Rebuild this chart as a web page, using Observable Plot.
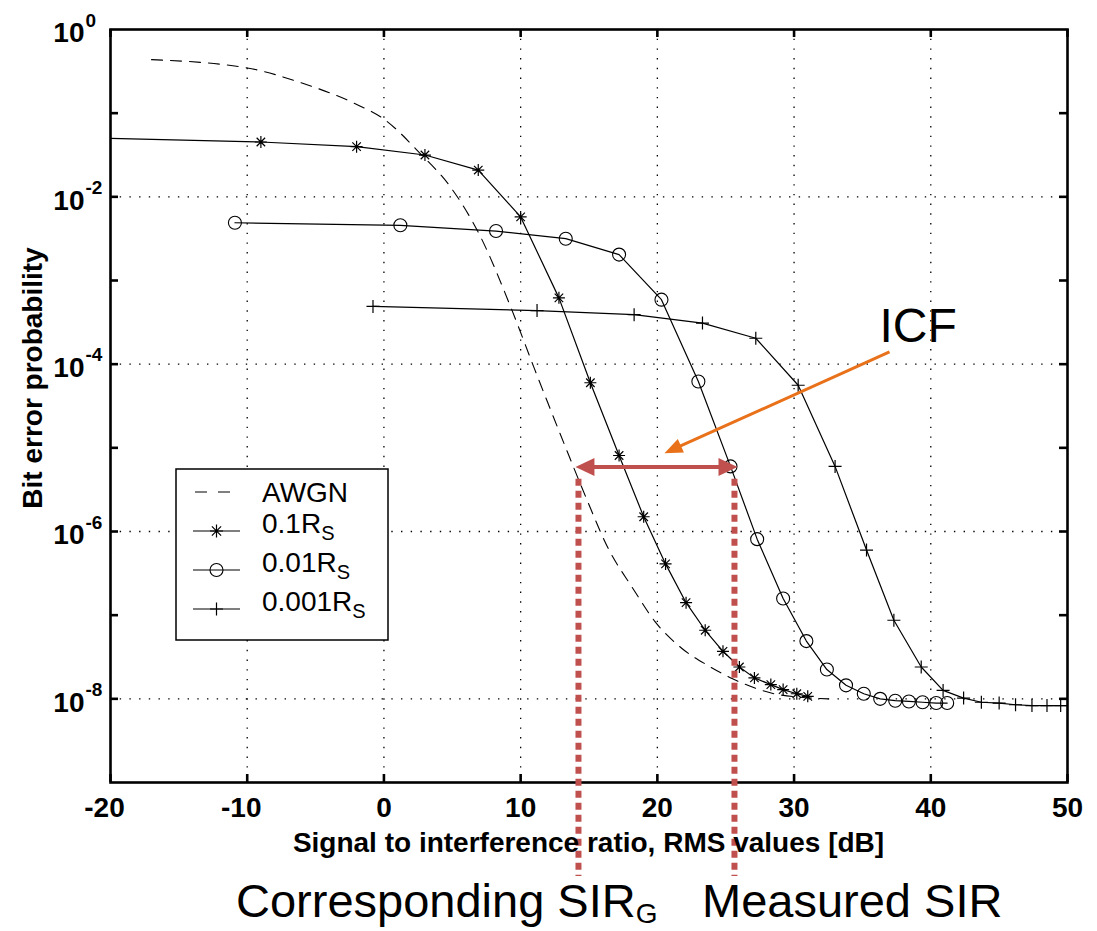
<!DOCTYPE html>
<html><head><meta charset="utf-8">
<script src="https://cdn.jsdelivr.net/npm/d3@7"></script>
<script src="https://cdn.jsdelivr.net/npm/@observablehq/plot@0.6"></script>
<style>
html,body{margin:0;padding:0;background:#fff;}
#chart{width:1097px;height:931px;}
</style></head><body><div id="chart"></div>
<script>
// ---------- data ----------
const xDomain = [-20, 50];
const yDomain = [1e-9, 1];
const xTicks = [-20, -10, 0, 10, 20, 30, 40, 50];
const xGrid = [-10, 0, 10, 20, 30, 40];
const yGrid = [1e-2, 1e-4, 1e-6, 1e-8];
const yTickDecades = [1e-1, 1e-2, 1e-3, 1e-4, 1e-5, 1e-6, 1e-7, 1e-8];
const yLabelExps = [0, -2, -4, -6, -8];

const awgnSIR = [-17, -10, -6, -2.2, 0, 2.7, 4.9, 7.0, 9.3, 11, 13.3, 14.8, 16.4, 18.2, 19.8, 21.8, 23.7, 25.5, 26.8, 28.9, 32.5];
const awgnBER = [0.436, 0.347, 0.229, 0.132, 0.085, 0.0324, 0.0129, 3.5e-3, 4.7e-4, 8.9e-5, 1.0e-5, 2.5e-6, 6.3e-7, 2.1e-7, 8.5e-8, 4.0e-8, 2.5e-8, 1.74e-8, 1.41e-8, 1.12e-8, 1.0e-8];

const r01SIR = [-20, -9, -2, 3, 6.9, 10, 12.8, 15.1, 17.2, 19.0, 20.6, 22.1, 23.5, 24.8, 26.0, 27.1, 28.3, 29.2, 30.2, 31.0];
const r01BER = [0.0501, 0.0452, 0.0398, 0.0316, 0.0209, 5.75e-3, 6.2e-4, 6.0e-5, 8.1e-6, 1.5e-6, 4.1e-7, 1.41e-7, 6.6e-8, 3.7e-8, 2.4e-8, 1.78e-8, 1.48e-8, 1.29e-8, 1.15e-8, 1.07e-8];

const r001SIR = [-10.9, 1.2, 8.2, 13.3, 17.2, 20.3, 23.0, 25.35, 27.3, 29.2, 30.9, 32.4, 33.8, 35.1, 36.3, 37.4, 38.4, 39.4, 40.4, 41.2];
const r001BER = [4.9e-3, 4.57e-3, 3.9e-3, 3.16e-3, 2.04e-3, 5.9e-4, 6.2e-5, 6.0e-6, 8.1e-7, 1.58e-7, 4.9e-8, 2.24e-8, 1.45e-8, 1.15e-8, 1.0e-8, 9.5e-9, 9.3e-9, 9.1e-9, 8.9e-9, 8.9e-9];

const r0001SIR = [-0.8, 11.2, 18.3, 23.3, 27.2, 30.3, 33.0, 35.3, 37.3, 39.3, 40.9, 42.4, 43.7, 45.0, 46.2, 47.4, 48.5, 49.5, 50];
const r0001BER = [4.9e-4, 4.37e-4, 3.9e-4, 3.1e-4, 2.04e-4, 5.6e-5, 6.0e-6, 6.0e-7, 8.7e-8, 2.4e-8, 1.26e-8, 1.02e-8, 9.1e-9, 8.9e-9, 8.5e-9, 8.3e-9, 8.3e-9, 8.3e-9, 8.3e-9];

// annotations (data coordinates)
const icfLabel = [{x: 36.25, y: 1.82e-4, text: "ICF"}];
const icfArrow = [{x1: 36.98, y1: 1.40e-4, x2: 20.52, y2: 8.64e-6}];
const sirArrow = [{x1: 14.01, x2: 25.86, y: 5.89e-6}];
const sirMarkers = [14.23, 25.64];
const sirMarkerSpan = [4.22e-6, 7.5e-11];

const legendLabels = ["AWGN", "0.1R", "0.01R", "0.001R"];

// ---------- layout ----------
const W = 1097, H = 931;
const M = {top: 29, right: 30, bottom: 149, left: 110};
const xs = Plot.scale({x: {domain: xDomain, range: [M.left, W - M.right]}});
const ys = Plot.scale({y: {type: "log", domain: yDomain, range: [H - M.bottom, M.top]}});

const rows = (X, Y) => X.map((x, i) => ({x, y: Y[i]}));
const awgn = rows(awgnSIR, awgnBER);
const s01 = rows(r01SIR, r01BER);
const s001 = rows(r001SIR, r001BER);
const s0001 = rows(r0001SIR, r0001BER);
const inside = d => d.x > xDomain[0] && d.x < xDomain[1];

// MATLAB-like marker symbols
const asteriskSym = {draw(c, size) { const r = Math.sqrt(size / Math.PI), d = r * 0.7071;
  c.moveTo(0, -r); c.lineTo(0, r); c.moveTo(-r, 0); c.lineTo(r, 0);
  c.moveTo(-d, -d); c.lineTo(d, d); c.moveTo(-d, d); c.lineTo(d, -d); }};
const plusSym = {draw(c, size) { const r = Math.sqrt(size / Math.PI);
  c.moveTo(0, -r); c.lineTo(0, r); c.moveTo(-r, 0); c.lineTo(r, 0); }};
const head = (L, Wd) => ({draw(c) { c.moveTo(0, 0); c.lineTo(-L, -Wd); c.lineTo(-L, Wd); c.closePath(); }});

const RED = "#C0504D", ORANGE = "#E8711A";

// ICF arrow geometry in pixels -> rotation and shaft end
const ia = icfArrow[0];
const p1 = [xs.apply(ia.x1), ys.apply(ia.y1)], p2 = [xs.apply(ia.x2), ys.apply(ia.y2)];
const ang = Math.atan2(p2[1] - p1[1], p2[0] - p1[0]);
const icfShaft = [{x1: ia.x1, y1: ia.y1,
  x2: xs.invert(p2[0] - 14 * Math.cos(ang)), y2: ys.invert(p2[1] - 14 * Math.sin(ang))}];
const sa = sirArrow[0];
const sirShaft = [{x1: xs.invert(xs.apply(sa.x1) + 14), x2: xs.invert(xs.apply(sa.x2) - 14), y: sa.y}];

const grid = {stroke: "#000", strokeOpacity: 1, strokeWidth: 1.3, strokeDasharray: "1.4,8.3"};
const tickLen = 8;
const bold28 = {fontSize: 28, fontWeight: "bold", fill: "#000"};

const plot = Plot.plot({
  width: W, height: H,
  marginTop: M.top, marginRight: M.right, marginBottom: M.bottom, marginLeft: M.left,
  x: {domain: xDomain, axis: null},
  y: {type: "log", domain: yDomain, axis: null},
  style: {background: "#fff", fontFamily: "'Liberation Sans', Arial, Helvetica, sans-serif", color: "#000"},
  marks: [
    Plot.ruleX(xGrid, grid),
    Plot.ruleY(yGrid, grid),
    // curves
    Plot.line(awgn, {x: "x", y: "y", stroke: "#000", strokeWidth: 1.1, strokeDasharray: "11,8", curve: "monotone-x"}),
    Plot.line(s01, {x: "x", y: "y", stroke: "#000", strokeWidth: 1.2}),
    Plot.line(s001, {x: "x", y: "y", stroke: "#000", strokeWidth: 1.2}),
    Plot.line(s0001, {x: "x", y: "y", stroke: "#000", strokeWidth: 1.2}),
    Plot.dot(s01.filter(inside), {x: "x", y: "y", symbol: asteriskSym, r: 6, stroke: "#000", strokeWidth: 1.2, fill: "none"}),
    Plot.dot(s001.filter(inside), {x: "x", y: "y", symbol: "circle", r: 6.5, stroke: "#000", strokeWidth: 1.1, fill: "none"}),
    Plot.dot(s0001.filter(inside), {x: "x", y: "y", symbol: plusSym, r: 6.5, stroke: "#000", strokeWidth: 1.2, fill: "none"}),
    // frame & inward ticks
    Plot.frame({stroke: "#000", strokeWidth: 2.6}),
    Plot.ruleX(xTicks, {y1: yDomain[0], y2: ys.invert(H - M.bottom - tickLen), stroke: "#000", strokeWidth: 2.6}),
    Plot.ruleX(xTicks, {y1: yDomain[1], y2: ys.invert(M.top + tickLen), stroke: "#000", strokeWidth: 2.6}),
    Plot.ruleY(yTickDecades, {x1: xDomain[0], x2: xs.invert(M.left + tickLen), stroke: "#000", strokeWidth: 2.6}),
    Plot.ruleY(yTickDecades, {x1: xDomain[1], x2: xs.invert(W - M.right - tickLen), stroke: "#000", strokeWidth: 2.6}),
    // tick labels
    Plot.text(xTicks.filter(d => d >= 0), {x: d => d, y: () => yDomain[0], text: d => String(d), dy: 26, ...bold28}),
    Plot.text(xTicks.filter(d => d < 0), {x: d => d, y: () => yDomain[0], text: d => String(d), dy: 26, dx: -6, ...bold28}),
    Plot.text(yLabelExps, {x: () => xDomain[0], y: d => Math.pow(10, d), text: () => "10", textAnchor: "end", dx: -26, dy: 4, ...bold28}),
    Plot.text(yLabelExps, {x: () => xDomain[0], y: d => Math.pow(10, d), text: d => String(d), textAnchor: "start", dx: -25, dy: -9, fontSize: 19, fontWeight: "bold", fill: "#000"}),
    // red SIR marker lines and double arrow
    Plot.ruleX(sirMarkers, {y1: sirMarkerSpan[0], y2: sirMarkerSpan[1], stroke: RED, strokeWidth: 6, strokeDasharray: "7,5"}),
    Plot.link(sirShaft, {x1: "x1", x2: "x2", y1: "y", y2: "y", stroke: RED, strokeWidth: 4}),
    Plot.dot(sirArrow, {x: "x2", y: "y", symbol: head(19, 9), r: 5, fill: RED, stroke: "none"}),
    Plot.dot(sirArrow, {x: "x1", y: "y", symbol: head(19, 9), r: 5, fill: RED, stroke: "none", rotate: 180}),
    // ICF arrow + label
    Plot.link(icfShaft, {x1: "x1", y1: "y1", x2: "x2", y2: "y2", stroke: ORANGE, strokeWidth: 3}),
    Plot.dot(icfArrow, {x: "x2", y: "y2", symbol: head(18, 7.5), r: 5, fill: ORANGE, stroke: "none", rotate: ang * 180 / Math.PI}),
    Plot.text(icfLabel, {x: "x", y: "y", text: "text", textAnchor: "start", lineAnchor: "bottom", fontSize: 48, fill: "#000"})
  ]
});

document.getElementById("chart").appendChild(plot);

// ---------- labels & legend (SVG) ----------
const svg = d3.select(plot);
const ff = "'Liberation Sans', Arial, Helvetica, sans-serif";

svg.append("text").attr("x", (M.left + W - M.right) / 2).attr("y", 842).attr("dy", "0.35em")
  .attr("text-anchor", "middle").attr("font-family", ff).attr("font-size", 28).attr("font-weight", "bold")
  .text("Signal to interference ratio, RMS values [dB]");

svg.append("text").attr("transform", `translate(32,378) rotate(-90)`).attr("dy", "0.35em")
  .attr("text-anchor", "middle").attr("font-family", ff).attr("font-size", 28).attr("font-weight", "bold")
  .text("Bit error probability");

// bottom annotation
const bt = svg.append("text").attr("x", 236).attr("y", 917).attr("text-anchor", "start").attr("font-family", ff).attr("font-size", 47);
bt.append("tspan").text("Corresponding SIR");
bt.append("tspan").attr("dy", 6).attr("font-size", 28).text("G");
svg.append("text").attr("x", 702).attr("y", 917).attr("text-anchor", "start").attr("font-family", ff).attr("font-size", 47).text("Measured SIR");

// legend
const lg = svg.append("g").attr("text-anchor", "start");
lg.append("rect").attr("x", 176).attr("y", 469).attr("width", 212).attr("height", 171)
  .attr("fill", "#fff").attr("stroke", "#000").attr("stroke-width", 1.5);
const rowY = [492, 531, 570, 609];
const mx = 216.5;
rowY.forEach((y, i) => {
  const ln = lg.append("line").attr("x1", 193).attr("x2", 240).attr("y1", y).attr("y2", y)
    .attr("stroke", "#000").attr("stroke-width", 1.2);
  if (i === 0) ln.attr("stroke-dasharray", "12,11").attr("x1", 195);
  const sym = [null, asteriskSym, null, plusSym][i];
  if (i === 2) lg.append("circle").attr("cx", mx).attr("cy", y).attr("r", 6.5).attr("fill", "none").attr("stroke", "#000").attr("stroke-width", 1.1);
  if (sym) {
    const p = d3.path(); sym.draw(p, Math.PI * 6.5 * 6.5);
    lg.append("path").attr("transform", `translate(${mx},${y})`).attr("d", p.toString()).attr("fill", "none").attr("stroke", "#000").attr("stroke-width", 1.2);
  }
  const t = lg.append("text").attr("x", 262).attr("text-anchor", "start").attr("font-family", ff).attr("font-size", 28);
  if (i === 0) { t.attr("y", y).attr("dy", "0.35em").text(legendLabels[0]); }
  else {
    t.attr("y", y + 2);
    t.append("tspan").text(legendLabels[i]);
    t.append("tspan").attr("dy", 7).attr("font-size", 20).text("S");
  }
});
</script>
</body></html>
